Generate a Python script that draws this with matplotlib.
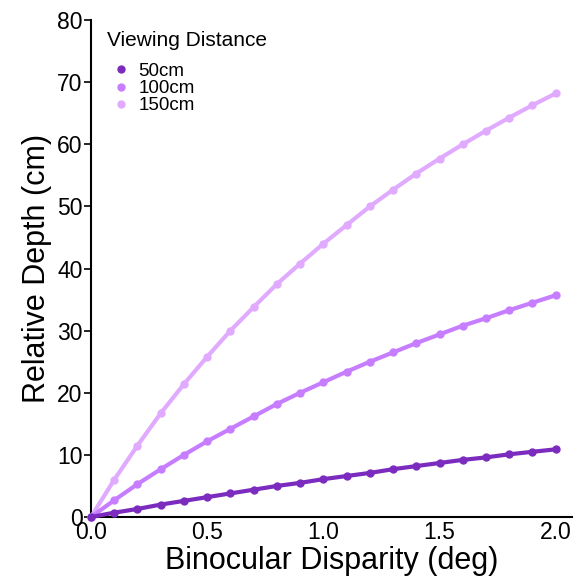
import matplotlib
matplotlib.use('Agg')
import matplotlib.pyplot as plt
from matplotlib.lines import Line2D

plt.rcParams['font.family'] = ['Liberation Sans', 'DejaVu Sans']

# disparity in degrees
disparity = [0.0, 0.1, 0.2, 0.3, 0.4, 0.5, 0.6, 0.7, 0.8, 0.9, 1.0,
             1.1, 1.2, 1.3, 1.4, 1.5, 1.6, 1.7, 1.8, 1.9, 2.0]

depth_50 = [0.0, 0.7, 1.3, 2.0, 2.6, 3.2, 3.8, 4.4, 5.0, 5.5, 6.1,
            6.6, 7.1, 7.7, 8.2, 8.7, 9.2, 9.6, 10.1, 10.5, 10.9]
depth_100 = [0.0, 2.7, 5.3, 7.7, 10.0, 12.2, 14.2, 16.2, 18.2, 20.0, 21.7,
             23.4, 25.0, 26.5, 28.0, 29.4, 30.8, 32.0, 33.3, 34.5, 35.7]
depth_150 = [0.0, 6.0, 11.5, 16.7, 21.4, 25.8, 30.0, 33.8, 37.5, 40.8, 44.0,
             47.0, 50.0, 52.7, 55.3, 57.7, 60.0, 62.2, 64.3, 66.3, 68.2]

labels = ['50cm', '100cm', '150cm']
colors = ['#7b2cbf', '#c77dff', '#e0aaff']

fig = plt.figure(figsize=(5.74, 5.86), dpi=100)
ax = fig.add_axes([0.1585, 0.1177, 0.838, 0.848])

series = [depth_50, depth_100, depth_150]
# draw lightest first so darker lines sit on top
for ys, c in reversed(list(zip(series, colors))):
    ax.plot(disparity, ys, color=c, lw=3, marker='o', ms=5, clip_on=False, zorder=3)

ax.set_xlim(0, 2.07)
ax.set_ylim(0, 80)
ax.set_xticks([0.0, 0.5, 1.0, 1.5, 2.0])
ax.set_xticklabels(['0.0', '0.5', '1.0', '1.5', '2.0'])
ax.set_yticks(range(0, 81, 10))
ax.tick_params(axis='y', labelsize=16.5, length=5, width=1.2, pad=1, color='black')
ax.tick_params(axis='x', labelsize=16.5, length=0, pad=3)
ax.spines['top'].set_visible(False)
ax.spines['right'].set_visible(False)
ax.spines['left'].set_linewidth(1.5)
ax.spines['bottom'].set_linewidth(1.5)

ax.set_xlabel('Binocular Disparity (deg)', fontsize=22, labelpad=1)
ax.set_ylabel('Relative Depth (cm)', fontsize=22, labelpad=4)

handles = [Line2D([], [], color=c, marker='o', ls='none', ms=5) for c in colors]
leg = ax.legend(handles, labels, title='Viewing Distance', loc='upper left',
                frameon=False, fontsize=13.5, title_fontsize=15,
                handletextpad=0.2, labelspacing=0.0, borderaxespad=0.2,
                handlelength=1.5, bbox_to_anchor=(0.009, 1.0))
leg._legend_box.align = 'left'
leg._legend_box.sep = 9  # a bit more room under the title

fig.savefig('out.png', dpi=100)
